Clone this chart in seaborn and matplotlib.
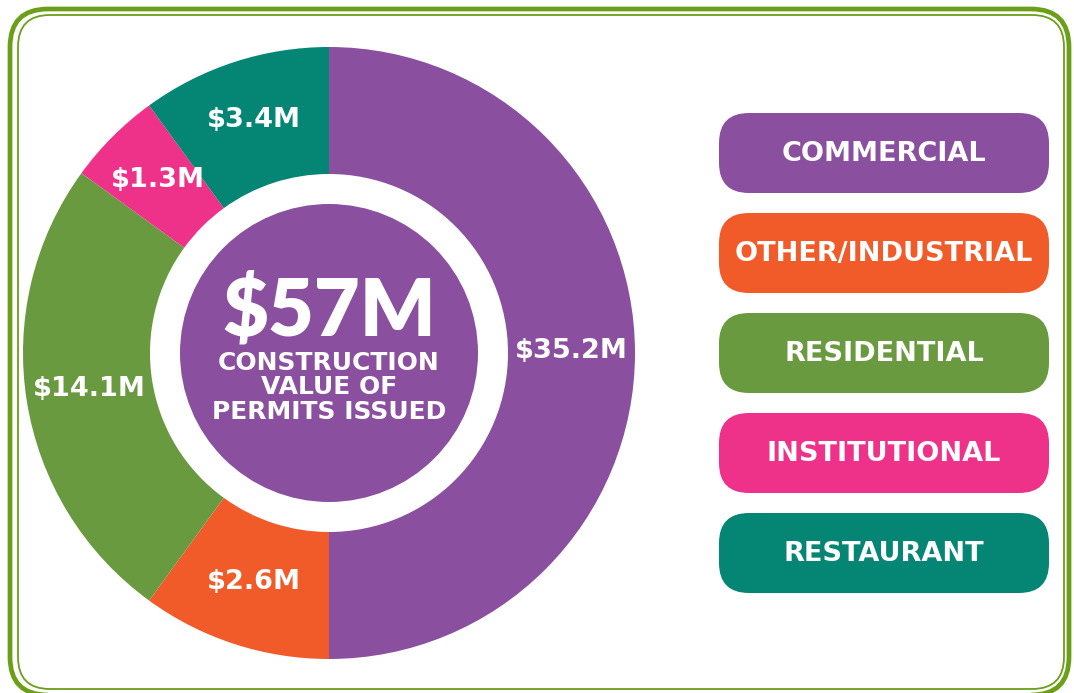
import matplotlib
matplotlib.use("Agg")
import matplotlib.pyplot as plt
from matplotlib.patches import Circle, FancyBboxPatch
import seaborn as sns

# ---- data ----
categories = ["COMMERCIAL", "OTHER/INDUSTRIAL", "RESIDENTIAL", "INSTITUTIONAL", "RESTAURANT"]
values_m = [35.2, 2.6, 14.1, 1.3, 3.4]          # $M shown on each segment
slice_share = [50, 10, 25, 5, 10]               # share of the ring as drawn (%)
total_label = "$57M"
center_caption = ["CONSTRUCTION", "VALUE OF", "PERMITS ISSUED"]
colors = ["#8A509F", "#F15A29", "#6A9A40", "#EE3289", "#058674"]

sns.set_theme(style="white")
palette = sns.color_palette(colors)
BIG = ["Lato", "DejaVu Sans"]
SMALL = ["DejaVu Sans"]
plt.rcParams["font.family"] = SMALL

W, H = 1074, 693
fig = plt.figure(figsize=(W / 100, H / 100), dpi=100)
fig.patch.set_facecolor("white")
ax = fig.add_axes([0, 0, 1, 1])
ax.set_facecolor("white")

def Y(y):
    return H - y

# ---- border ----
ax.add_patch(FancyBboxPatch((10 + 38, Y(695) + 38), 1059 - 76, 686 - 76,
                            boxstyle="round,pad=38", fill=False,
                            edgecolor="#6C9F18", linewidth=3.4, zorder=1))
ax.add_patch(FancyBboxPatch((18 + 32, Y(689) + 32), 1046 - 64, 674 - 64,
                            boxstyle="round,pad=32", fill=False,
                            edgecolor="#6C9F18", linewidth=1.3, zorder=1))

# ---- donut ----
cx, cy = 329, Y(353)
R_out, R_in, R_core = 306, 179, 149
wedges, texts = ax.pie(
    slice_share,
    labels=[f"${v}M" for v in values_m],
    colors=palette,
    startangle=90,
    counterclock=False,
    center=(cx, cy),
    radius=R_out,
    labeldistance=((R_out + R_in) / 2) / R_out,
    wedgeprops=dict(width=R_out - R_in, linewidth=0),
    textprops=dict(color="white", fontsize=19.5, fontweight="bold",
                   ha="center", va="center", family=SMALL),
)
for w in wedges:
    w.set_zorder(2)
for t in texts:
    t.set_zorder(3)
    x, y = t.get_position()
    t.set_position((x, y + 2))

ax.add_patch(Circle((cx, cy), R_core, color=palette[0], linewidth=0, zorder=2))
ax.text(cx, Y(311), total_label, color="white", fontsize=57, fontweight="heavy",
        ha="center", va="center", zorder=3, family=BIG)
for i, line in enumerate(center_caption):
    ax.text(cx, Y(363 + 24.5 * i), line, color="white", fontsize=18,
            fontweight="bold", ha="center", va="center", zorder=3)

# ---- legend pills ----
px0, px1 = 719, 1049
ph = 80
rad = 30
for i, (cat, col) in enumerate(zip(categories, palette)):
    top = 113 + 100 * i
    ax.add_patch(FancyBboxPatch((px0 + rad, Y(top + ph) + rad), (px1 - px0) - 2 * rad, ph - 2 * rad,
                                boxstyle=f"round,pad={rad}", facecolor=col,
                                edgecolor="none", zorder=2))
    ax.text((px0 + px1) / 2, Y(top + ph / 2 + 1), cat, color="white", fontsize=19.5,
            fontweight="bold", ha="center", va="center", zorder=3)

ax.set_xlim(0, W)
ax.set_ylim(0, H)
ax.set_aspect("equal")
ax.axis("off")

fig.savefig("out.png", dpi=100, facecolor="white")
